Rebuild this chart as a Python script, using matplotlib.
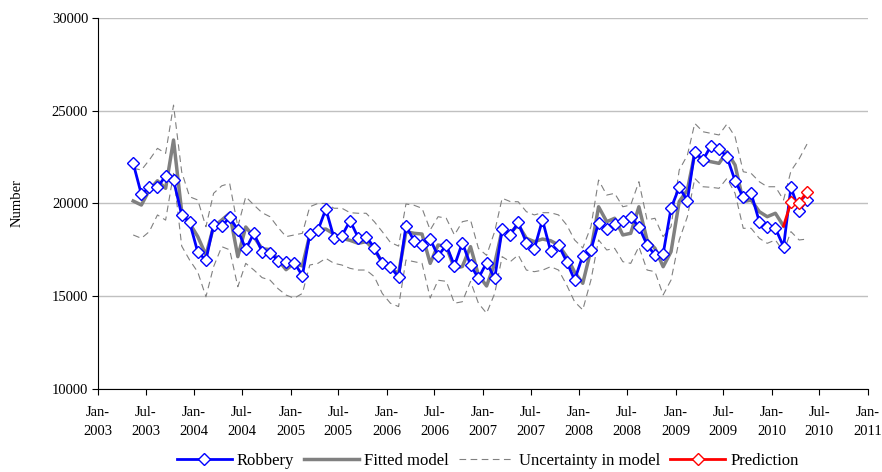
import numpy as np
import matplotlib
matplotlib.use('Agg')
import matplotlib.pyplot as plt
import matplotlib.dates as mdates
import pandas as pd

# monthly values, May 2003 - May 2010
robbery = [22160, 20490, 20870, 20870, 21480, 21260, 19380, 18980, 17370, 16950,
           18840, 18780, 19250, 18570, 17540, 18390, 17400, 17350, 16910, 16830,
           16810, 16105, 18350, 18550, 19700, 18140, 18260, 19070, 18150, 18210,
           17610, 16770, 16590, 16020, 18780, 17990, 17760, 18070, 17170, 17760,
           16640, 17880, 16680, 15965, 16805, 15965, 18620, 18300, 18980, 17880,
           17540, 19110, 17440, 17760, 16860, 15870, 17180, 17490, 18960, 18610,
           18880, 19050, 19250, 18750, 17760, 17220, 17275, 19740, 20870, 20150,
           22790, 22340, 23090, 22930, 22520, 21220, 20330, 20545, 19015, 18745,
           18660, 17670, 20870, 19610, 20185]

fitted = [20130, 19915, 20720, 21220, 20815, 23420, 19555, 18930, 18210, 17220,
          18745, 19105, 19470, 17130, 18730, 18200, 17560, 17510, 16950, 16430,
          16770, 16630, 18300, 18570, 18620, 18350, 18120, 18010, 17850, 17940,
          17490, 16860, 16500, 16230, 18480, 18390, 18350, 16770, 17760, 17670,
          16500, 16600, 17670, 16140, 15550, 16770, 18570, 18420, 18840, 18120,
          17940, 18080, 17990, 17760, 17130, 16300, 15695, 17490, 19820, 19015,
          19200, 18300, 18390, 19820, 18030, 17580, 16590, 17400, 20100, 20720,
          22700, 22340, 22250, 22160, 22790, 22070, 20095, 20185, 19555, 19285,
          19470, 18780]

upper = [21900, 21800, 22340, 22970, 22700, 25300, 21700, 20360, 20185, 18745,
         20545, 20950, 21080, 18745, 20360, 19915, 19500, 19285, 18700, 18210,
         18300, 18390, 19820, 20000, 20000, 19740, 19740, 19500, 19470, 19470,
         19015, 18480, 17900, 17700, 19970, 19900, 19740, 18570, 19285, 19200,
         18300, 19015, 19110, 17580, 17200, 18500, 20280, 20100, 20090, 19555,
         19380, 19500, 19500, 19380, 18840, 18030, 17600, 18750, 21260, 20450,
         20545, 19820, 19915, 21170, 19110, 19200, 18210, 18750, 21800, 22600,
         24315, 23865, 23780, 23690, 24280, 23595, 21710, 21620, 21170, 20900,
         20900, 20185, 21750, 22400, 23200]

lower = [18300, 18120, 18480, 19380, 19100, 21620, 17700, 16950, 16300, 14970,
         16590, 17670, 17500, 15510, 16770, 16410, 16000, 15870, 15400, 15060,
         14890, 15150, 16680, 16770, 17040, 16770, 16680, 16500, 16410, 16410,
         16050, 15150, 14620, 14440, 16950, 16860, 16770, 14900, 15860, 15800,
         14620, 14700, 15800, 14620, 14080, 15150, 17130, 16860, 17220, 16410,
         16320, 16400, 16590, 16410, 15600, 14700, 14260, 15870, 18030, 17490,
         17580, 16860, 16770, 17670, 16410, 16320, 15065, 15870, 18030, 19285,
         21350, 20900, 20870, 20815, 21350, 20545, 18660, 18660, 18120, 17850,
         18030, 17400, 18480, 18030, 18080]

# Feb 2010 (end of fitted model) then Mar - May 2010
prediction = [18780, 20060, 20040, 20630]

months = pd.date_range('2003-05-01', periods=len(robbery), freq='MS') + pd.Timedelta(days=14)
fit_months = months[:len(fitted)]
pred_months = months[len(fitted) - 1:len(fitted) - 1 + len(prediction)]

plt.rcParams['font.family'] = ['Liberation Serif', 'DejaVu Serif']

fig = plt.figure(figsize=(8.82, 4.72), dpi=100)
ax = fig.add_axes([0.111, 0.176, 0.873, 0.786])

ax.plot(months, upper, color='#808080', lw=0.8, dashes=(6, 4), label='Uncertainty in model', zorder=2)
ax.plot(months, lower, color='#808080', lw=0.8, dashes=(6, 4), zorder=2)
ax.plot(fit_months, fitted, color='#808080', lw=2.5, label='Fitted model', zorder=3)
ax.plot(months, robbery, color='#0000ff', lw=2, marker='D', ms=6.5, mfc='white',
        mec='#0000ff', mew=1, label='Robbery', zorder=4)
ax.plot(pred_months, prediction, color='#ff0000', lw=2, marker='D', ms=6.5, mfc='white',
        mec='#ff0000', mew=1, markevery=[1, 2, 3], label='Prediction', zorder=5)

ax.set_ylim(10000, 30000)
ax.set_yticks([10000, 15000, 20000, 25000, 30000])
ax.set_xlim(pd.Timestamp('2003-01-01'), pd.Timestamp('2011-01-01'))
ax.xaxis.set_major_locator(mdates.MonthLocator(bymonth=[1, 7]))
ax.xaxis.set_major_formatter(mdates.DateFormatter('%b-\n%Y'))

ax.grid(axis='y', color='#c0c0c0', lw=1)
ax.set_axisbelow(True)
for s in ['top', 'right']:
    ax.spines[s].set_visible(False)
ax.spines['left'].set_color('black')
ax.spines['bottom'].set_color('black')
ax.tick_params(axis='both', direction='out', length=4, labelsize=10.5)
ax.tick_params(axis='y', pad=3)
ax.tick_params(axis='x', pad=8)
for lab in ax.get_xticklabels():
    lab.set_linespacing(1.6)

ax.set_ylabel('Number', fontsize=10.5, labelpad=20)

handles, labels = ax.get_legend_handles_labels()
order = [labels.index(l) for l in ['Robbery', 'Fitted model', 'Uncertainty in model', 'Prediction']]
fig.legend([handles[i] for i in order], [labels[i] for i in order], loc='center',
           bbox_to_anchor=(0.553, 0.023), ncol=4, frameon=False, fontsize=12,
           handlelength=3.3, handletextpad=0.3, columnspacing=0.6)

fig.savefig('out.png', dpi=100)
